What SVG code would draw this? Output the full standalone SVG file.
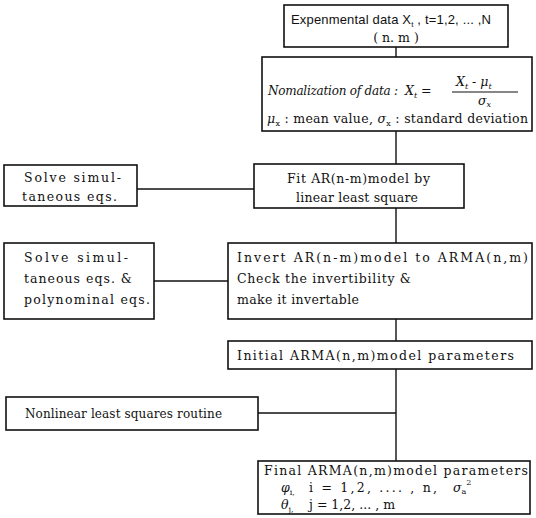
<svg xmlns="http://www.w3.org/2000/svg" width="536" height="518" viewBox="0 0 536 518">
<style>
rect{fill:#fff;stroke:#111;stroke-width:1.6}
.c line{stroke:#111;stroke-width:1.4}
text{font-family:"DejaVu Serif","Liberation Serif","Times New Roman",serif;font-size:12.5px;fill:#111}
.s{font-family:"Liberation Sans",Arial,sans-serif;font-size:13px}
.i{font-style:italic}
.sb{font-size:8px}
.sm{font-size:12px}
</style>
<g class="c" id="connectors">
<line x1="396" y1="47" x2="396" y2="57"/>
<line x1="396" y1="131" x2="396" y2="164"/>
<line x1="137" y1="189" x2="254" y2="189"/>
<line x1="396" y1="208" x2="396" y2="243"/>
<line x1="154" y1="281" x2="228" y2="281"/>
<line x1="396" y1="319" x2="396" y2="341"/>
<line x1="396" y1="369" x2="396" y2="461"/>
<line x1="258" y1="413" x2="396" y2="413"/>
</g>
<g id="n1">
<rect x="284" y="5" width="224" height="42"/>
<text class="s" x="291" y="24" textLength="200" lengthAdjust="spacing">Expenmental data X<tspan class="sb" dy="3">t</tspan><tspan dy="-3"> , t=1,2, ... ,N</tspan></text>
<text x="396" y="42" text-anchor="middle">( n. m )</text>
</g>
<g id="n2">
<rect x="262" y="57" width="270" height="74"/>
<text class="i sm" x="268" y="95" textLength="130" lengthAdjust="spacing">Nomalization of data :</text>
<text class="i" x="405" y="95">X<tspan class="sb" dy="3">t</tspan><tspan dy="-3"> =</tspan></text>
<text class="i" x="456" y="86">X<tspan class="sb" dy="3">t</tspan><tspan dy="-3"> - μ</tspan><tspan class="sb" dy="3">t</tspan></text>
<line x1="452" y1="92" x2="518" y2="92" stroke="#111" stroke-width="1.2"/>
<text class="i" x="478" y="105">σ<tspan class="sb" dy="2">x</tspan></text>
<text x="267" y="123" textLength="261" lengthAdjust="spacing"><tspan class="i">μ</tspan><tspan class="sb" dy="3">x</tspan><tspan dy="-3"> : mean value,  </tspan><tspan class="i">σ</tspan><tspan class="sb" dy="3">x</tspan><tspan dy="-3"> : standard deviation</tspan></text>
</g>
<g id="n3">
<rect x="4" y="165" width="133" height="41"/>
<text x="24" y="182" textLength="97" lengthAdjust="spacing">Solve simul-</text>
<text x="22" y="201" textLength="95" lengthAdjust="spacing">taneous eqs.</text>
</g>
<g id="n4">
<rect x="254" y="164" width="210" height="44"/>
<text x="287" y="183" textLength="143" lengthAdjust="spacing">Fit AR(n-m)model by</text>
<text x="296" y="202" textLength="122" lengthAdjust="spacing">linear least square</text>
</g>
<g id="n5">
<rect x="4" y="243" width="150" height="76"/>
<text x="24" y="262" textLength="104" lengthAdjust="spacing">Solve   simul-</text>
<text x="24" y="283" textLength="108" lengthAdjust="spacing">taneous eqs. &amp;</text>
<text x="24" y="304" textLength="126" lengthAdjust="spacing">polynominal eqs.</text>
</g>
<g id="n6">
<rect x="228" y="243" width="304" height="76"/>
<text x="237" y="262" textLength="291" lengthAdjust="spacing">Invert AR(n-m)model to ARMA(n,m)</text>
<text x="237" y="283" textLength="174" lengthAdjust="spacing">Check the invertibility &amp;</text>
<text x="237" y="304" textLength="122" lengthAdjust="spacing">make it invertable</text>
</g>
<g id="n7">
<rect x="228" y="341" width="304" height="28"/>
<text x="237" y="360" textLength="277" lengthAdjust="spacing">Initial ARMA(n,m)model parameters</text>
</g>
<g id="n8">
<rect x="6" y="397" width="252" height="33"/>
<text class="sm" x="25" y="418" textLength="197" lengthAdjust="spacing">Nonlinear least squares routine</text>
</g>
<g id="n9">
<rect x="258" y="461" width="272" height="53"/>
<text x="264" y="475" textLength="264" lengthAdjust="spacing">Final ARMA(n,m)model parameters</text>
<text x="281" y="492"><tspan class="i">φ</tspan><tspan class="sb" dy="3">i,</tspan></text>
<text x="309" y="492" textLength="128" lengthAdjust="spacing">i = 1,2, .... , n,</text>
<text x="453" y="492"><tspan class="i">σ</tspan><tspan class="sb" dy="2">a</tspan><tspan class="sb" dy="-9">2</tspan></text>
<text x="281" y="509"><tspan class="i">θ</tspan><tspan class="sb" dy="3">j,</tspan></text>
<text x="309" y="509" textLength="86" lengthAdjust="spacing">j = 1,2, ... , m</text>
</g>
</svg>
